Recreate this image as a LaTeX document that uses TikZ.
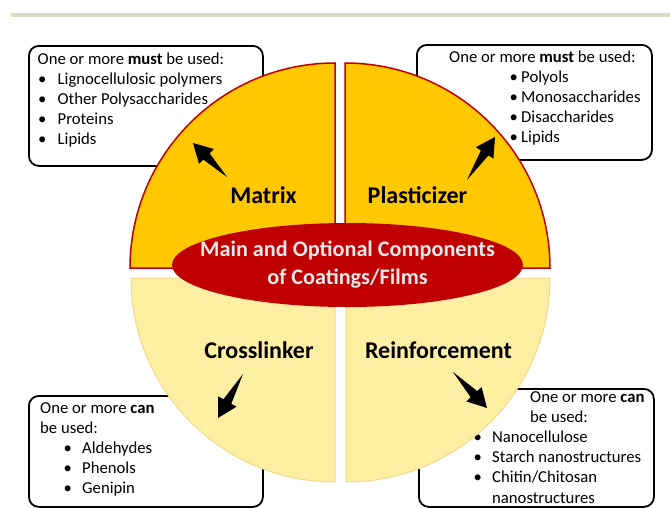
\documentclass[tikz,border=0pt]{standalone}
\usepackage{fontspec}
\setmainfont{Carlito}
\usepackage{tikz}
\usetikzlibrary{calc}
\usetikzlibrary{positioning}
\usetikzlibrary{shapes.geometric}
\definecolor{barbeige}{HTML}{DDD9C4}
\definecolor{maingold}{HTML}{FFC800}
\definecolor{mainred}{HTML}{C00000}
\definecolor{optpale}{HTML}{FFEFA3}
\definecolor{opttan}{HTML}{F2D98C}
\definecolor{coretext}{HTML}{E8E8E8}
\newcommand{\bitem}[3]{\hspace*{#1}\makebox[#2][l]{\textbullet}#3}
\newcommand{\warrow}[2]{\fill[arrowfill] (#1)
  -- ($(#2)!19pt!(#1)!4.5pt!90:(#1)$) -- ($(#2)!19pt!(#1)!10.5pt!90:(#1)$)
  -- (#2)
  -- ($(#2)!19pt!(#1)!10.5pt!-90:(#1)$) -- ($(#2)!19pt!(#1)!4.5pt!-90:(#1)$)
  -- cycle}

\begin{document}
\begin{tikzpicture}[
        x=1pt, y=1pt,
        every node/.style={font=\fontsize{16.7}{20.2}\selectfont},
        infobox/.style={rectangle,rounded corners=10pt,line width=1.8pt,draw=black,
                        fill=white,anchor=north west},
        boxtext/.style={anchor=base west,inner sep=0pt,align=left},
        mainquad/.style={fill=maingold,draw=mainred,line width=1.5pt},
        optquad/.style={fill=optpale,draw=opttan,line width=1pt},
        core/.style={ellipse,fill=mainred,inner sep=0pt,
                     minimum width=351pt,minimum height=84pt},
        coretext/.style={text=coretext,align=center,
                     font=\fontsize{22.2}{28}\selectfont\bfseries},
        partlabel/.style={font=\fontsize{24}{28}\selectfont\bfseries},
        arrowfill/.style={fill=black}
      ]
      \useasboundingbox (0,0) rectangle (670,-507);
      \fill[barbeige] (11,-12.5) rectangle (670,-16.5);

      % boxes with the lists
      \node[infobox, minimum width=234pt, minimum height=120pt] (matrixbox) at (28,-45) {};
      \node[infobox, minimum width=235pt, minimum height=115pt] (plasbox) at (416,-44) {};
      \node[infobox, minimum width=234pt, minimum height=111pt] (crossbox) at (28,-395) {};
      \node[infobox, minimum width=235pt, minimum height=118pt] (reinbox) at (418,-388) {};

      % base = last line
      \node[boxtext] (matrixtext) at (37.5,-144.8) {One or more \textbf{must} be used:\\
        \bitem{0.5pt}{19.5pt}{Lignocellulosic polymers}\\
        \bitem{0.5pt}{19.5pt}{Other Polysaccharides}\\
        \bitem{0.5pt}{19.5pt}{Proteins}\\
        \bitem{0.5pt}{19.5pt}{Lipids}};
      \node[boxtext] (plastext) at (449,-142.8) {One or more \textbf{must} be used:\\
        \bitem{60.5pt}{11.5pt}{Polyols}\\
        \bitem{60.5pt}{11.5pt}{Monosaccharides}\\
        \bitem{60.5pt}{11.5pt}{Disaccharides}\\
        \bitem{60.5pt}{11.5pt}{Lipids}};
      \node[boxtext] (crosstext) at (40,-493.8) {One or more \textbf{can}\\
        be used:\\
        \bitem{23.5pt}{18.5pt}{Aldehydes}\\
        \bitem{23.5pt}{18.5pt}{Phenols}\\
        \bitem{23.5pt}{18.5pt}{Genipin}};
      \node[boxtext] (reintext) at (473.5,-503) {\hspace*{56.5pt}One or more \textbf{can}\\
        \hspace*{56.5pt}be used:\\
        \bitem{0pt}{18.5pt}{Nanocellulose}\\
        \bitem{0pt}{18.5pt}{Starch nanostructures}\\
        \bitem{0pt}{18.5pt}{Chitin/Chitosan}\\
        \hspace*{18.5pt}nanostructures};

      % the four quarters
      \draw[mainquad] (335,-268) -- (130,-268) arc[start angle=180, end angle=90, radius=205] -- cycle;
      \draw[mainquad] (345,-268) -- (345,-63) arc[start angle=90, end angle=0, radius=205] -- cycle;
      \draw[optquad] (335,-278) -- (131,-278) arc[start angle=180, end angle=270, radius=204] -- cycle;
      \draw[optquad] (346,-278) -- (346,-482) arc[start angle=270, end angle=360, radius=204] -- cycle;

      \node[core] (core) at (347.5,-265) {};
      \node[coretext] (coretitle) at (core.center) {Main and Optional Components\\of Coatings/Films};

      \node[partlabel] (matrix) at (263.5,-195) {Matrix};
      \node[partlabel] (plasticizer) at (417.5,-195) {Plasticizer};
      \node[partlabel] (crosslinker) at (259,-350) {Crosslinker};
      \node[partlabel] (reinforcement) at (438.5,-350) {Reinforcement};

      % arrows towards the lists
      \coordinate (matrix-tail) at (227,-177);
      \coordinate (matrix-tip) at (193,-143);
      \coordinate (plas-tail) at (467,-180);
      \coordinate (plas-tip) at (495,-137);
      \coordinate (cross-tail) at (243,-374);
      \coordinate (cross-tip) at (218,-418);
      \coordinate (rein-tail) at (453,-372);
      \coordinate (rein-tip) at (487,-408);
      \warrow{matrix-tail}{matrix-tip};
      \warrow{plas-tail}{plas-tip};
      \warrow{cross-tail}{cross-tip};
      \warrow{rein-tail}{rein-tip};
    \end{tikzpicture}
\end{document}
